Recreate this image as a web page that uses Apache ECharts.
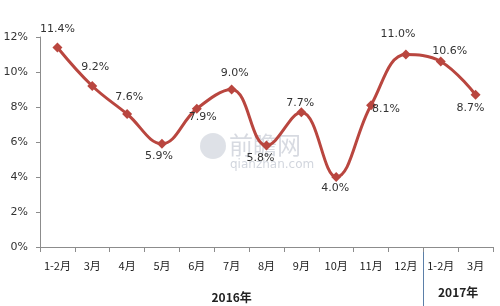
<!DOCTYPE html>
<html><head><meta charset="utf-8">
<script src="https://cdn.jsdelivr.net/npm/echarts@6/dist/echarts.min.js"></script>
<style>html,body{margin:0;padding:0;background:#fff}#c{width:500px;height:306px}</style>
</head><body><div id="c"></div>
<script>
const categories = ['1-2月','3月','4月','5月','6月','7月','8月','9月','10月','11月','12月','1-2月','3月'];
const values = [11.4, 9.2, 7.6, 5.9, 7.9, 9.0, 5.8, 7.7, 4.0, 8.1, 11.0, 10.6, 8.7];
const yearGroups = ['2016年','2017年'];
const yearCounts = [11, 2];
const yTicks = [0, 2, 4, 6, 8, 10, 12];

// label placement (style only)
const labelOffsets = [[0,-3],[3,-3],[2,-1],[-3,-3],[6,-7],[3,-1],[-6,-3],[-1,6],[-1,-4],[15,-12],[-8,-5],[9,5],[-5,-2]];
const labelPosKind = ['top','top','top','bottom','bottom','top','bottom','top','bottom','bottom','top','top','bottom'];

const GL = 40, GR = 7, GT = 37, GB = 59, W = 500, H = 306;
const chart = echarts.init(document.getElementById('c'));
const data = values.map((v,i)=>({
  value: v,
  label: {position: labelPosKind[i], offset: labelOffsets[i]}
}));
chart.setOption({
  animation: false,
  grid: {left: GL, right: GR, top: GT, bottom: GB, containLabel: false},
  xAxis: {
    type: 'category', data: categories, boundaryGap: true,
    axisLine: {lineStyle: {color: '#8c8c8c'}},
    axisTick: {show: true, length: 5, lineStyle: {color: '#8c8c8c'}},
    axisLabel: {color: '#222', fontSize: 11, margin: 13, fontFamily: 'Noto Sans CJK SC', interval: 0}
  },
  yAxis: {
    type: 'value', min: yTicks[0], max: yTicks[yTicks.length-1], interval: 2,
    splitLine: {show: false},
    axisLine: {show: true, lineStyle: {color: '#8c8c8c'}},
    axisTick: {show: true, length: 4, lineStyle: {color: '#8c8c8c'}},
    axisLabel: {color: '#333', fontSize: 11, margin: 12, fontFamily: 'DejaVu Sans', formatter: v => v + '%'}
  },
  series: [{
    type: 'line', data: data, smooth: 0.4,
    symbol: 'diamond', symbolSize: 10,
    lineStyle: {color: '#b9463f', width: 3},
    itemStyle: {color: '#b9463f'},
    label: {show: true, color: '#333', fontSize: 11, fontFamily: 'DejaVu Sans', formatter: p => p.value.toFixed(1) + '%'},
    z: 3
  }]
});

function drawGroups(){
  const els = [];
  const band = (W - GL - GR) / categories.length;
  const y0 = chart.convertToPixel({yAxisIndex:0}, 0);
  let start = 0;
  yearGroups.forEach((g, gi) => {
    const x1 = GL + band * start;
    const x2 = GL + band * (start + yearCounts[gi]);
    els.push({type:'text', x:(x1+x2)/2, y: gi===0 ? 297 : 292, style:{text:g, fill:'#222', font:'bold 12px "Noto Sans CJK SC"', align:'center', verticalAlign:'middle'}});
    if (gi > 0) {
      els.push({type:'line', shape:{x1:Math.round(x1)+0.5, y1:y0, x2:Math.round(x1)+0.5, y2:H}, style:{stroke:'#5b7fa8', lineWidth:1}});
    }
    start += yearCounts[gi];
  });
  // watermark
  els.push({type:'circle', shape:{cx:213, cy:146, r:13}, style:{fill:'rgba(160,170,185,0.35)'}, z:-1});
  els.push({type:'text', x:229, y:145, style:{text:'前瞻网', fill:'rgba(140,150,170,0.35)', font:'24px "Noto Sans CJK SC"', verticalAlign:'middle'}, z:-1});
  els.push({type:'text', x:230, y:165, style:{text:'qianzhan.com', fill:'rgba(140,150,170,0.4)', font:'12px "DejaVu Sans"', verticalAlign:'middle'}, z:-1});
  chart.setOption({graphic: els});
}
drawGroups();
</script></body></html>
